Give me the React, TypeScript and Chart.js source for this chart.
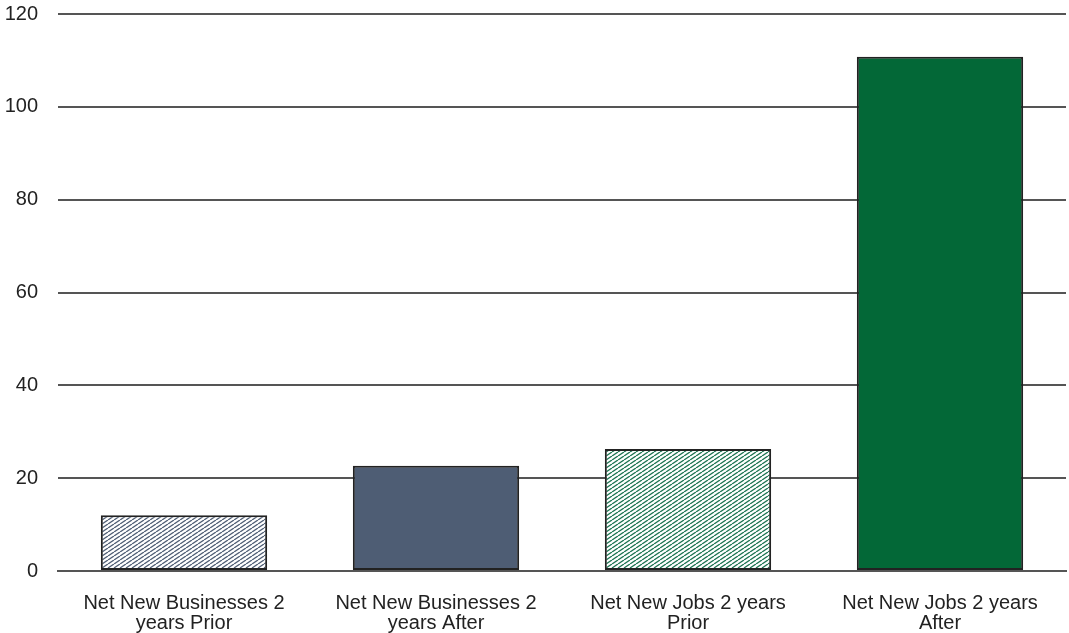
import React, { useEffect, useRef } from "react";
import { Chart, registerables } from "chart.js";
Chart.register(...registerables);

const categories: string[][] = [
  ["Net New Businesses 2", "years Prior"],
  ["Net New Businesses 2", "years After"],
  ["Net New Jobs 2 years", "Prior"],
  ["Net New Jobs 2 years", "After"],
];
const values = [12, 22.7, 26.3, 110.8];
const yMin = 0;
const yMax = 120;
const yStep = 20;

function hatch(color: string) {
  const c = document.createElement("canvas");
  c.width = 6;
  c.height = 4;
  const ctx = c.getContext("2d")!;
  ctx.fillStyle = "#ffffff";
  ctx.fillRect(0, 0, 6, 4);
  ctx.strokeStyle = color;
  ctx.lineWidth = 1.3;
  for (const dx of [-6, 0, 6]) {
    ctx.beginPath();
    ctx.moveTo(dx, 4);
    ctx.lineTo(dx + 6, 0);
    ctx.stroke();
  }
  return ctx.createPattern(c, "repeat")!;
}

export default function App() {
  const ref = useRef<HTMLCanvasElement>(null);
  useEffect(() => {
    const fills = [hatch("#4e5d74"), "#4e5d74", hatch("#1b7350"), "#036837"];
    const chart = new Chart(ref.current!, {
      type: "bar",
      data: {
        labels: categories,
        datasets: [
          {
            data: values,
            backgroundColor: fills as any,
            borderColor: "#222222",
            borderWidth: 2,
            borderSkipped: false,
            barPercentage: 0.66,
            categoryPercentage: 1,
          },
        ],
      },
      options: {
        animation: false,
        responsive: true,
        maintainAspectRatio: false,
        layout: { padding: { top: 14, right: 3, bottom: 0, left: 0 } },
        plugins: { legend: { display: false }, tooltip: { enabled: false } },
        scales: {
          x: {
            afterFit: (s: any) => {
              s.height = 62;
            },
            grid: { display: false, drawTicks: false, tickLength: 0 },
            border: { display: true, color: "#555555", width: 2 },
            ticks: {
              color: "#222222",
              font: { family: "Liberation Sans", size: 20, lineHeight: 1.0 },
              padding: 22,
              maxRotation: 0,
              autoSkip: false,
            },
          },
          y: {
            min: yMin,
            max: yMax,
            afterFit: (s: any) => {
              s.width = 58;
            },
            grid: {
              color: "#555555",
              lineWidth: 2,
              drawTicks: true,
              tickLength: 20,
              tickColor: "rgba(0,0,0,0)",
            },
            border: { display: false },
            ticks: {
              stepSize: yStep,
              color: "#222222",
              font: { family: "Liberation Sans", size: 20, lineHeight: 1.0 },
              padding: 0,
            },
          },
        },
      },
    });
    return () => chart.destroy();
  }, []);
  return (
    <div style={{ position: "absolute", left: 0, top: 0, width: 1069, height: 633 }}>
      <canvas ref={ref} />
    </div>
  );
}
